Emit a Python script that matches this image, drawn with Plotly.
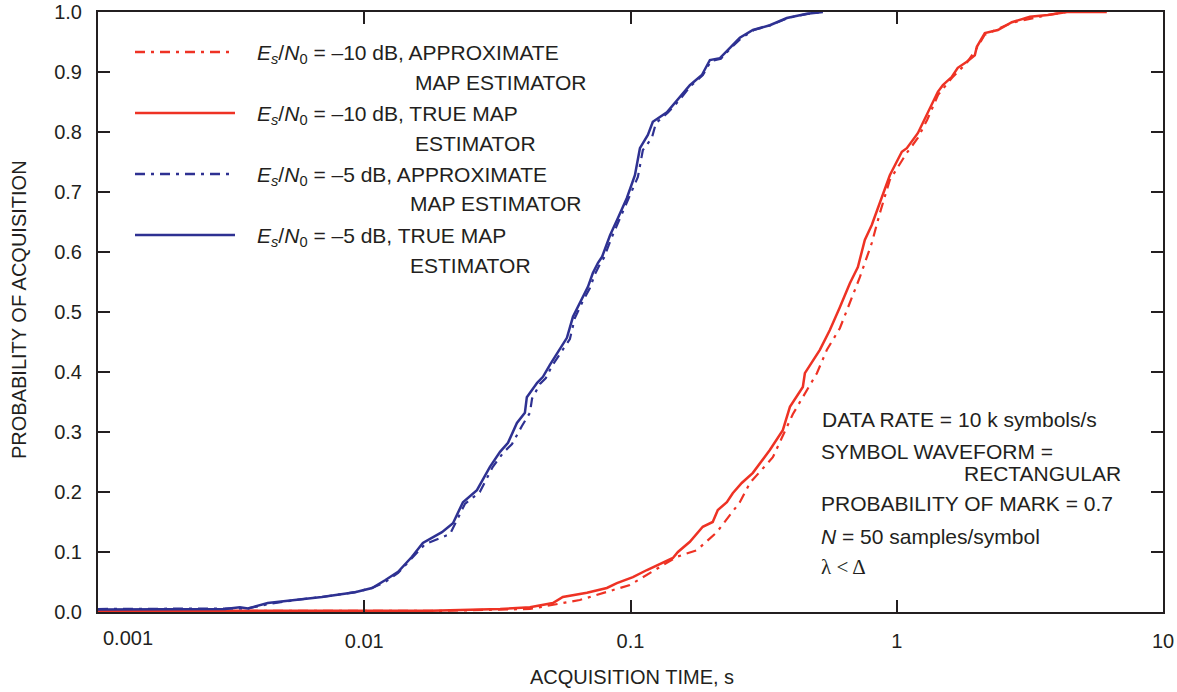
import plotly.graph_objects as go

# ---------------- data ----------------
blue_true_t = [0.001, 0.0030, 0.00341, 0.00366, 0.00434, 0.0055, 0.00693, 0.00923, 0.0107, 0.01197,
               0.0134, 0.01511, 0.0166, 0.01958, 0.02154, 0.02348, 0.0265, 0.02965, 0.03236, 0.03467,
               0.03745, 0.04012, 0.0408, 0.0446, 0.0469, 0.0498, 0.0552, 0.0577, 0.0608, 0.0646,
               0.0692, 0.0722, 0.0755, 0.0782, 0.0838, 0.0898, 0.0969, 0.1039, 0.1085, 0.1162,
               0.1213, 0.137, 0.1494, 0.1671, 0.1854, 0.1987, 0.2167, 0.2362, 0.2574, 0.2883,
               0.3337, 0.3865, 0.4592, 0.528]
blue_true_p = [0.004, 0.005, 0.008, 0.006, 0.015, 0.02, 0.025, 0.033, 0.04, 0.053,
               0.067, 0.092, 0.115, 0.133, 0.148, 0.183, 0.203, 0.242, 0.267, 0.282,
               0.315, 0.332, 0.358, 0.382, 0.392, 0.412, 0.442, 0.457, 0.492, 0.515,
               0.542, 0.565, 0.582, 0.592, 0.628, 0.657, 0.69, 0.728, 0.773, 0.795,
               0.817, 0.833, 0.853, 0.878, 0.895, 0.92, 0.923, 0.94, 0.957, 0.97,
               0.978, 0.99, 0.997, 1.0]

blue_approx_t = [0.001, 0.0030, 0.00366, 0.00434, 0.0055, 0.00693, 0.00923, 0.0107, 0.01197, 0.0134,
                 0.01511, 0.0169, 0.021, 0.02388, 0.02716, 0.0304, 0.0332, 0.0359, 0.0391, 0.0419,
                 0.0427, 0.0457, 0.0481, 0.0507, 0.0562, 0.0592, 0.0618, 0.0657, 0.0704, 0.0735,
                 0.0768, 0.0794, 0.0851, 0.0912, 0.0986, 0.1066, 0.1113, 0.1203, 0.1246, 0.138,
                 0.1518, 0.1685, 0.187, 0.2004, 0.2185, 0.2381, 0.26, 0.2907, 0.3364, 0.3898,
                 0.4634, 0.528]
blue_approx_p = [0.005, 0.006, 0.006, 0.013, 0.02, 0.025, 0.033, 0.04, 0.05, 0.065,
                 0.09, 0.113, 0.13, 0.18, 0.2, 0.242, 0.265, 0.28, 0.31, 0.332,
                 0.356, 0.38, 0.39, 0.41, 0.44, 0.455, 0.49, 0.515, 0.54, 0.563,
                 0.58, 0.59, 0.625, 0.655, 0.69, 0.725, 0.77, 0.79, 0.815, 0.832,
                 0.852, 0.877, 0.895, 0.918, 0.922, 0.94, 0.956, 0.97, 0.978, 0.99,
                 0.997, 1.0]

red_true_t = [0.001, 0.01766, 0.0324, 0.0419, 0.0511, 0.0557, 0.0686, 0.0815, 0.0889, 0.1021,
              0.1153, 0.1324, 0.1443, 0.1507, 0.1671, 0.1868, 0.2036, 0.2128, 0.2301, 0.2421,
              0.2617, 0.2882, 0.3337, 0.3733, 0.397, 0.4439, 0.4518, 0.5143, 0.5608, 0.6114,
              0.6668, 0.7146, 0.7587, 0.8058, 0.8644, 0.9023, 0.9418, 1.045, 1.091, 1.2,
              1.297, 1.367, 1.427, 1.49, 1.611, 1.695, 1.833, 1.964, 1.999, 2.142,
              2.397, 2.706, 3.162, 3.691, 4.35, 6.15]
red_true_p = [0.002, 0.002, 0.005, 0.008, 0.015, 0.025, 0.032, 0.04, 0.048, 0.058,
              0.07, 0.083, 0.09, 0.1, 0.117, 0.142, 0.15, 0.17, 0.183, 0.198,
              0.215, 0.232, 0.27, 0.303, 0.342, 0.375, 0.398, 0.437, 0.47, 0.508,
              0.548, 0.575, 0.62, 0.645, 0.683, 0.708, 0.728, 0.767, 0.773, 0.798,
              0.828, 0.85, 0.867, 0.878, 0.892, 0.907, 0.917, 0.928, 0.942, 0.965,
              0.97, 0.983, 0.992, 0.995, 1.0, 1.0]

red_approx_t = [0.001, 0.0195, 0.0419, 0.0645, 0.0995, 0.1494, 0.1775, 0.211, 0.2574, 0.2808,
                0.3425, 0.4074, 0.5012, 0.5466, 0.6114, 0.6961, 0.7269, 0.8058, 0.8644, 0.9418,
                1.09, 1.2, 1.3, 1.43, 1.61, 1.83, 2.0, 2.14, 2.7, 3.7, 4.35]
red_approx_p = [0.002, 0.002, 0.005, 0.02, 0.045, 0.092, 0.103, 0.133, 0.183, 0.215,
                0.258, 0.33, 0.398, 0.437, 0.473, 0.537, 0.558, 0.615, 0.665, 0.72,
                0.765, 0.79, 0.82, 0.862, 0.89, 0.915, 0.94, 0.962, 0.982, 0.995, 1.0]

x_tick_vals = [0.001, 0.01, 0.1, 1, 10]
x_tick_text = ["", "0.01", "0.1", "1", "10"]
y_tick_vals = [0.0, 0.1, 0.2, 0.3, 0.4, 0.5, 0.6, 0.7, 0.8, 0.9, 1.0]

RED = "rgb(238,50,36)"
BLUE = "rgb(46,49,146)"
INK = "#231F20"
DASHDOT = "10px,6px,3px,6px"
FONT = "Liberation Sans, Arial, Helvetica, sans-serif"

fig = go.Figure()
fig.add_trace(go.Scatter(x=red_approx_t, y=red_approx_p, mode="lines",
                         line=dict(color=RED, width=2.2, dash=DASHDOT)))
fig.add_trace(go.Scatter(x=red_true_t, y=red_true_p, mode="lines",
                         line=dict(color=RED, width=2.5)))
fig.add_trace(go.Scatter(x=blue_approx_t, y=blue_approx_p, mode="lines",
                         line=dict(color=BLUE, width=2.2, dash=DASHDOT)))
fig.add_trace(go.Scatter(x=blue_true_t, y=blue_true_p, mode="lines",
                         line=dict(color=BLUE, width=2.5)))

L, R, T, B = 98, 1163, 12, 612
W, H = 1177, 692


def px(x):
    return (x - L) / (R - L)


def py(y):
    return (B - y) / (B - T)


shapes = []
annotations = []

# legend samples + text
legend = [
    (52, RED, DASHDOT, "–10 dB, APPROXIMATE", "MAP ESTIMATOR", 413),
    (113, RED, "solid", "–10 dB, TRUE MAP", "ESTIMATOR", 413),
    (174, BLUE, DASHDOT, "–5 dB, APPROXIMATE", "MAP ESTIMATOR", 408),
    (235, BLUE, "solid", "–5 dB, TRUE MAP", "ESTIMATOR", 408),
]
for yy, col, dsh, l1, l2, x2 in legend:
    shapes.append(dict(type="line", xref="paper", yref="paper",
                       x0=px(135), x1=px(235), y0=py(yy), y1=py(yy),
                       line=dict(color=col, width=2.5, dash=dsh)))
    annotations.append(dict(xref="paper", yref="paper", x=px(255), y=py(yy + 2),
                            xanchor="left", yanchor="middle", showarrow=False,
                            text="<i>E<sub>s</sub></i>/<i>N</i><sub>0</sub> = " + l1,
                            font=dict(size=21, color=INK, family=FONT)))
    annotations.append(dict(xref="paper", yref="paper", x=px(x2), y=py(yy + 30),
                            xanchor="left", yanchor="middle", showarrow=False,
                            text=l2, font=dict(size=21, color=INK, family=FONT)))

info = [
    (820, 419, "DATA RATE = 10 k symbols/s", FONT),
    (819, 451, "SYMBOL WAVEFORM =", FONT),
    (962, 473, "RECTANGULAR", FONT),
    (819, 503, "PROBABILITY OF MARK = 0.7", FONT),
    (819, 536, "<i>N</i> = 50 samples/symbol", FONT),
    (819, 567, "λ &lt; Δ", "Liberation Serif, Times New Roman, serif"),
]
for xx, yy, txt, fam in info:
    annotations.append(dict(xref="paper", yref="paper", x=px(xx), y=py(yy),
                            xanchor="left", yanchor="middle", showarrow=False,
                            text=txt, font=dict(size=21, color=INK, family=fam)))

# first x tick label (shifted inward as in the reference)
annotations.append(dict(xref="paper", yref="paper", x=px(128), y=py(638),
                        xanchor="center", yanchor="middle", showarrow=False,
                        text="0.001", font=dict(size=20, color=INK, family=FONT)))
# axis titles
annotations.append(dict(xref="paper", yref="paper", x=px(632), y=py(677),
                        xanchor="center", yanchor="middle", showarrow=False,
                        text="ACQUISITION TIME, s", font=dict(size=20, color=INK, family=FONT)))
annotations.append(dict(xref="paper", yref="paper", x=px(19), y=py(310),
                        xanchor="center", yanchor="middle", showarrow=False, textangle=-90,
                        text="PROBABILITY OF ACQUISITION", font=dict(size=20, color=INK, family=FONT)))

fig.update_layout(
    width=W, height=H,
    margin=dict(l=L, r=W - R, t=T, b=H - B, autoexpand=False),
    paper_bgcolor="white", plot_bgcolor="white",
    showlegend=False,
    font=dict(family=FONT, size=20, color=INK),
    shapes=shapes, annotations=annotations,
)
fig.update_xaxes(type="log", range=[-3, 1], tickvals=x_tick_vals, ticktext=x_tick_text,
                 ticks="inside", ticklen=12, tickwidth=1.5, tickcolor=INK,
                 showline=True, linecolor=INK, linewidth=2, mirror="ticks",
                 showgrid=False, zeroline=False, ticklabelstandoff=10, automargin=False,
                 tickfont=dict(size=20, color=INK, family=FONT))
fig.update_yaxes(range=[0, 1.0], tickvals=y_tick_vals, tickformat=".1f",
                 ticks="inside", ticklen=12, tickwidth=1.5, tickcolor=INK,
                 showline=True, linecolor=INK, linewidth=2, mirror="ticks",
                 showgrid=False, zeroline=False, ticklabelstandoff=10, automargin=False,
                 tickfont=dict(size=20, color=INK, family=FONT))

fig.write_html("out.html", config={"displayModeBar": False},
               post_script="document.body.style.margin='0';document.body.style.overflow='hidden';")
